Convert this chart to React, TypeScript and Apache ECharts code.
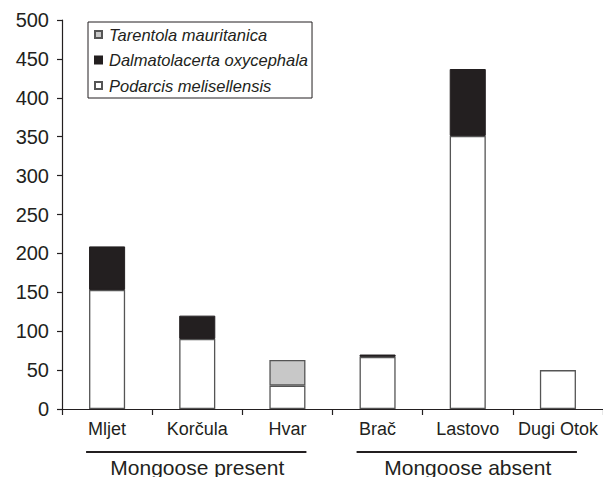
import React, { useEffect, useRef } from "react";
import * as echarts from "echarts";

const islands = ["Mljet", "Korčula", "Hvar", "Brač", "Lastovo", "Dugi Otok"];
const podarcis = [153, 90, 30, 67, 351, 50];
const dalmatolacerta = [56, 30, 0, 3, 86, 0];
const tarentola = [0, 0, 33, 0, 0, 0];
const groups = [
  { label: "Mongoose present", from: 0, to: 2 },
  { label: "Mongoose absent", from: 3, to: 5 },
];
const yTicks = { min: 0, max: 500, interval: 50 };

const FONT = "'Liberation Sans', Arial, Helvetica, sans-serif";
const INK = "#231f20";

const noZero = (arr: number[]) => arr.map((v) => (v === 0 ? "-" : v));

export default function App() {
  const ref = useRef<HTMLDivElement>(null);
  useEffect(() => {
    if (!ref.current) return;
    const chart = echarts.init(ref.current, undefined, { renderer: "svg" });
    const barBase = { type: "bar", stack: "total", barWidth: "40%" };
    chart.setOption({
      animation: false,
      backgroundColor: "#ffffff",
      grid: { left: 62, right: 0, top: 20, bottom: 68 },
      legend: {
        orient: "vertical",
        left: 88,
        top: 22,
        data: ["Tarentola mauritanica", "Dalmatolacerta oxycephala", "Podarcis melisellensis"],
        icon: "rect",
        itemWidth: 7,
        itemHeight: 7,
        itemGap: 8.5,
        padding: [4, 4, 4, 6],
        borderColor: INK,
        borderWidth: 1,
        textStyle: {
          fontFamily: FONT,
          fontStyle: "italic",
          fontSize: 16.5,
          lineHeight: 17,
          color: INK,
          padding: [0, 0, 0, 2],
        },
      },
      xAxis: {
        type: "category",
        data: islands,
        axisLine: { lineStyle: { color: INK, width: 1.2 } },
        axisTick: { show: true, length: 6, lineStyle: { color: INK, width: 1.2 } },
        axisLabel: { fontFamily: FONT, fontSize: 18, color: INK, margin: 11, interval: 0 },
      },
      yAxis: {
        type: "value",
        min: yTicks.min,
        max: yTicks.max,
        interval: yTicks.interval,
        axisLine: { show: true, lineStyle: { color: INK, width: 1.2 } },
        axisTick: { show: true, length: 5, lineStyle: { color: INK, width: 1.2 } },
        axisLabel: { fontFamily: FONT, fontSize: 20, color: INK, margin: 13 },
        splitLine: { show: false },
      },
      series: [
        {
          ...barBase,
          name: "Podarcis melisellensis",
          data: noZero(podarcis),
          itemStyle: { color: "#ffffff", borderColor: "#555", borderWidth: 1.3 },
        },
        {
          ...barBase,
          name: "Dalmatolacerta oxycephala",
          data: noZero(dalmatolacerta),
          itemStyle: { color: INK, borderColor: INK, borderWidth: 1 },
        },
        {
          ...barBase,
          name: "Tarentola mauritanica",
          data: noZero(tarentola),
          itemStyle: { color: "#c8c8c8", borderColor: "#555", borderWidth: 1.3 },
        },
      ],
    });

    const graphics: any[] = [];
    groups.forEach((g) => {
      const x0 = chart.convertToPixel({ xAxisIndex: 0 }, islands[g.from]) as number;
      const x1 = chart.convertToPixel({ xAxisIndex: 0 }, islands[g.to]) as number;
      const y0 = chart.convertToPixel({ yAxisIndex: 0 }, 0) as number;
      const lineY = y0 + 43;
      graphics.push({
        type: "line",
        shape: { x1: x0 - 21, y1: lineY, x2: x1 + 19, y2: lineY },
        style: { stroke: INK, lineWidth: 2 },
      });
      graphics.push({
        type: "text",
        x: (x0 + x1) / 2,
        y: lineY + 15,
        style: {
          text: g.label,
          fontFamily: FONT,
          fontSize: 21,
          fill: INK,
          align: "center",
          verticalAlign: "middle",
        },
      });
    });
    chart.setOption({ graphic: graphics });

    return () => chart.dispose();
  }, []);
  return (
    <div
      ref={ref}
      style={{ position: "absolute", left: 0, top: 0, width: 603, height: 477 }}
    />
  );
}
